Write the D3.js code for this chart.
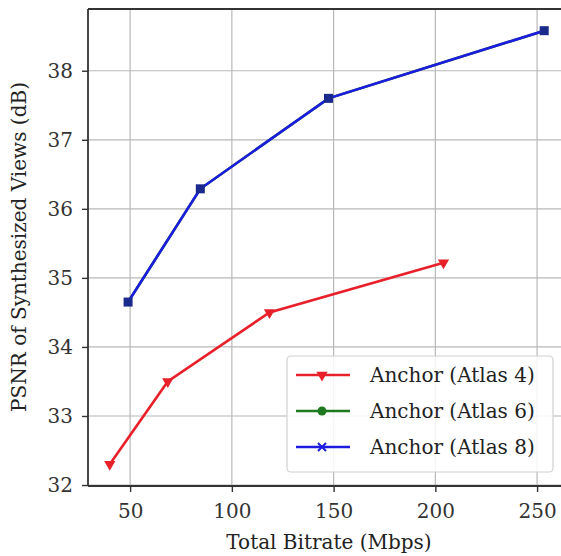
<!DOCTYPE html>
<html lang="en">
<head>
    <meta charset="UTF-8">
    <title>PSNR vs Bitrate</title>
    <style>
        body {
            margin: 0;
            background-color: white;
        }
        svg {
            display: block;
        }
        svg text {
            font-family: "DejaVu Serif", serif;
        }
    </style>
</head>
<body>
    <svg width="561" height="556"></svg>
    <script src="https://d3js.org/d3.v7.min.js"></script>
    <script>
        // data
        const seriesNames = ["Anchor (Atlas 4)", "Anchor (Atlas 6)", "Anchor (Atlas 8)"];
        const atlas4Bitrate = [40, 68.5, 118.5, 204];
        const atlas4Psnr = [32.3, 33.5, 34.5, 35.22];
        // atlas 6 sits exactly under atlas 8 in the picture
        const atlas6Bitrate = [49, 84.5, 147.5, 253.5];
        const atlas6Psnr = [34.65, 36.29, 37.6, 38.58];
        const atlas8Bitrate = [49, 84.5, 147.5, 253.5];
        const atlas8Psnr = [34.65, 36.29, 37.6, 38.58];
        const xTicks = [50, 100, 150, 200, 250];
        const yTicks = [32, 33, 34, 35, 36, 37, 38];

        const svg = d3.select("svg");
        const pLeft = 88, pRight = 567, pTop = 9, pBottom = 486;
        const fontSize = 20;

        const x = d3.scaleLinear().domain([29.3, 264.7]).range([pLeft, pRight]);
        const y = d3.scaleLinear().domain([31.986, 38.894]).range([pBottom, pTop]);

        // grid
        svg.append("g").selectAll("line").data(xTicks).join("line")
            .attr("x1", d => x(d)).attr("x2", d => x(d))
            .attr("y1", pTop).attr("y2", pBottom)
            .attr("stroke", "#b8b8b8").attr("stroke-width", 1.2);
        svg.append("g").selectAll("line").data(yTicks).join("line")
            .attr("x1", pLeft).attr("x2", pRight)
            .attr("y1", d => y(d)).attr("y2", d => y(d))
            .attr("stroke", "#b8b8b8").attr("stroke-width", 1.2);

        // axes
        const xAxis = svg.append("g")
            .attr("transform", `translate(0,${pBottom})`)
            .call(d3.axisBottom(x).tickValues(xTicks).tickFormat(d3.format("d")).tickSize(6).tickPadding(12));
        const yAxis = svg.append("g")
            .attr("transform", `translate(${pLeft},0)`)
            .call(d3.axisLeft(y).tickValues(yTicks).tickFormat(d3.format("d")).tickSize(6).tickPadding(9));
        [xAxis, yAxis].forEach(a => {
            a.select(".domain").remove();
            a.selectAll("line").attr("stroke", "#333").attr("stroke-width", 1.4);
            a.selectAll("text").attr("font-size", fontSize).attr("fill", "#333")
                .attr("font-family", null);
        });

        // frame
        svg.append("line").attr("x1", pLeft).attr("x2", pLeft).attr("y1", pTop).attr("y2", pBottom)
            .attr("stroke", "#333").attr("stroke-width", 1.8);
        svg.append("line").attr("x1", pLeft).attr("x2", pRight).attr("y1", pBottom).attr("y2", pBottom)
            .attr("stroke", "#333").attr("stroke-width", 1.8);
        svg.append("line").attr("x1", pLeft).attr("x2", pRight).attr("y1", pTop).attr("y2", pTop)
            .attr("stroke", "#333").attr("stroke-width", 1.8);

        const line = d3.line().x(d => x(d[0])).y(d => y(d[1]));
        const zip = (a, b) => a.map((v, i) => [v, b[i]]);

        const red = "#e8202a", green = "#1f7a1f", blue = "#1c1ce0";
        const s4 = zip(atlas4Bitrate, atlas4Psnr);
        const s6 = zip(atlas6Bitrate, atlas6Psnr);
        const s8 = zip(atlas8Bitrate, atlas8Psnr);

        svg.append("path").datum(s4).attr("d", line).attr("fill", "none")
            .attr("stroke", red).attr("stroke-width", 2.6);
        svg.append("path").datum(s6).attr("d", line).attr("fill", "none")
            .attr("stroke", green).attr("stroke-width", 2.6);
        svg.append("path").datum(s8).attr("d", line).attr("fill", "none")
            .attr("stroke", blue).attr("stroke-width", 2.6);

        const tri = d3.symbol().type(d3.symbolTriangle).size(55);
        svg.append("g").selectAll("path").data(s4).join("path")
            .attr("d", tri)
            .attr("transform", d => `translate(${x(d[0])},${y(d[1])}) rotate(180)`)
            .attr("fill", red);
        svg.append("g").selectAll("rect").data(s8).join("rect")
            .attr("x", d => x(d[0]) - 4.5).attr("y", d => y(d[1]) - 4.5)
            .attr("width", 9).attr("height", 9)
            .attr("fill", "#1a2a8c");

        // axis labels
        svg.append("text").attr("x", 329).attr("y", 549)
            .attr("text-anchor", "middle").attr("font-size", fontSize).attr("fill", "#222")
            .text("Total Bitrate (Mbps)");
        svg.append("text").attr("transform", "translate(26,247) rotate(-90)")
            .attr("text-anchor", "middle").attr("font-size", fontSize).attr("fill", "#222")
            .text("PSNR of Synthesized Views (dB)");

        // legend
        const lg = svg.append("g");
        lg.append("rect").attr("x", 287).attr("y", 356).attr("width", 266).attr("height", 116)
            .attr("rx", 4).attr("fill", "white").attr("fill-opacity", 0.85)
            .attr("stroke", "#d0d0d0").attr("stroke-width", 1.2);
        const rowsY = [375, 411, 447];
        const colors = [red, green, blue];
        seriesNames.forEach((name, i) => {
            const yy = rowsY[i];
            lg.append("line").attr("x1", 296).attr("x2", 350).attr("y1", yy).attr("y2", yy)
                .attr("stroke", colors[i]).attr("stroke-width", 2.6);
            if (i === 0) {
                lg.append("path").attr("d", tri)
                    .attr("transform", `translate(322,${yy}) rotate(180)`).attr("fill", red);
            } else if (i === 1) {
                lg.append("circle").attr("cx", 322).attr("cy", yy).attr("r", 4.5).attr("fill", green);
            } else {
                lg.append("path").attr("d", "M-4,-4L4,4M-4,4L4,-4")
                    .attr("transform", `translate(322,${yy})`)
                    .attr("stroke", blue).attr("stroke-width", 2);
            }
            lg.append("text").attr("x", 370).attr("y", yy + 7)
                .attr("font-size", fontSize).attr("fill", "#222")
                .text(name);
        });
    </script>
</body>
</html>
